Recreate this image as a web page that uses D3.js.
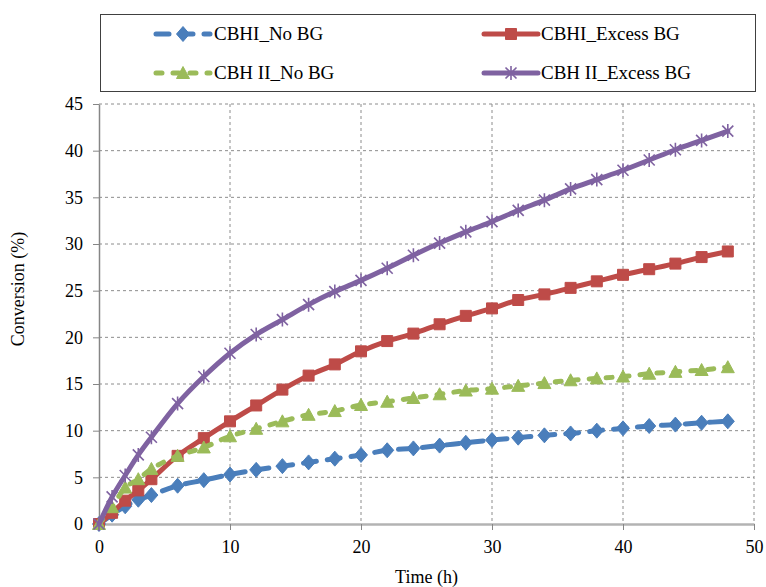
<!DOCTYPE html>
<html>
<head>
<meta charset="utf-8">
<script src="https://cdn.jsdelivr.net/npm/d3@7"></script>
<style>
  html, body { margin: 0; padding: 0; background: #fff; }
  svg { display: block; }
  text { font-family: "Liberation Serif", "Times New Roman", serif; fill: #000; }
</style>
</head>
<body>
<svg id="chart" width="766" height="587"></svg>
<script>
// Sampling times (h)
const timeH = [0, 1, 2, 3, 4, 6, 8, 10, 12, 14, 16, 18, 20, 22, 24, 26, 28, 30, 32, 34, 36, 38, 40, 42, 44, 46, 48];

// Conversion (%) for each enzyme condition
const cbhiNoBG      = [0, 1.0, 1.9, 2.6, 3.1, 4.1, 4.7, 5.3, 5.8, 6.2, 6.6, 7.0, 7.4, 7.9, 8.1, 8.4, 8.7, 9.0, 9.25, 9.5, 9.7, 10.0, 10.25, 10.5, 10.65, 10.85, 11.0];
const cbhiExcessBG  = [0, 1.2, 2.5, 3.6, 4.8, 7.3, 9.2, 11.0, 12.7, 14.4, 15.9, 17.1, 18.5, 19.6, 20.4, 21.4, 22.3, 23.1, 24.0, 24.6, 25.3, 26.0, 26.7, 27.3, 27.9, 28.6, 29.2];
const cbh2NoBG      = [0, 1.8, 3.9, 4.8, 5.9, 7.3, 8.2, 9.4, 10.2, 11.0, 11.7, 12.1, 12.75, 13.1, 13.5, 13.9, 14.3, 14.5, 14.8, 15.1, 15.4, 15.6, 15.8, 16.1, 16.3, 16.5, 16.8];
const cbh2ExcessBG  = [0, 2.9, 5.2, 7.4, 9.3, 12.9, 15.8, 18.3, 20.3, 21.9, 23.5, 24.9, 26.1, 27.4, 28.8, 30.1, 31.3, 32.4, 33.6, 34.7, 35.9, 36.9, 37.9, 39.0, 40.1, 41.1, 42.1];

const seriesNames = ["CBHI_No BG", "CBHI_Excess BG", "CBH II_No BG", "CBH II_Excess BG"];
const xTicks = [0, 10, 20, 30, 40, 50];
const yTicks = [0, 5, 10, 15, 20, 25, 30, 35, 40, 45];

const series = [
  { name: seriesNames[0], values: cbhiNoBG,     color: "#4A7EBB", dash: "13,11", marker: "diamond" },
  { name: seriesNames[1], values: cbhiExcessBG, color: "#BE4B48", dash: null,    marker: "square" },
  { name: seriesNames[2], values: cbh2NoBG,     color: "#9BBB59", dash: "6,11",  marker: "triangle" },
  { name: seriesNames[3], values: cbh2ExcessBG, color: "#7F62A1", dash: null,    marker: "star" }
];

const svg = d3.select("#chart");
const plot = { left: 99, right: 754, top: 104, bottom: 524 };

const x = d3.scaleLinear().domain([0, 50]).range([plot.left, plot.right]);
const y = d3.scaleLinear().domain([0, 45]).range([plot.bottom, plot.top]);

// Dashed grid
const grid = svg.append("g");
grid.selectAll("line.h").data(yTicks.filter(d => d > 0)).join("line")
  .attr("x1", plot.left).attr("x2", plot.right)
  .attr("y1", d => y(d)).attr("y2", d => y(d))
  .attr("stroke", "#8c8c8c").attr("stroke-width", 1).attr("stroke-dasharray", "3,3");
grid.selectAll("line.v").data(xTicks.filter(d => d > 0)).join("line")
  .attr("x1", d => x(d)).attr("x2", d => x(d))
  .attr("y1", plot.top).attr("y2", plot.bottom)
  .attr("stroke", "#8c8c8c").attr("stroke-width", 1).attr("stroke-dasharray", "3,3");

// Y axis
const yAxis = svg.append("g")
  .attr("transform", `translate(${plot.left},0)`)
  .call(d3.axisLeft(y).tickValues(yTicks).tickSize(6).tickPadding(10).tickSizeOuter(0));
yAxis.attr("font-family", null);
yAxis.select(".domain").attr("stroke", "#868686").attr("stroke-width", 1.5);
yAxis.selectAll(".tick line").attr("stroke", "#868686").attr("stroke-width", 1);
yAxis.selectAll(".tick text").attr("font-size", 18).attr("fill", "#000");

// X axis
const xAxis = svg.append("g")
  .attr("transform", `translate(0,${plot.bottom})`)
  .call(d3.axisBottom(x).tickValues(xTicks).tickSize(6).tickPadding(10).tickSizeOuter(0));
xAxis.attr("font-family", null);
xAxis.select(".domain").attr("stroke", "#b3b3b3").attr("stroke-width", 2.5);
xAxis.selectAll(".tick line").attr("stroke", "#868686").attr("stroke-width", 1);
xAxis.selectAll(".tick text").attr("font-size", 18).attr("fill", "#000");

// Axis titles
svg.append("text")
  .attr("x", (plot.left + plot.right) / 2).attr("y", 583)
  .attr("text-anchor", "middle").attr("font-size", 18)
  .text("Time (h)");
svg.append("text")
  .attr("transform", "translate(24,289) rotate(-90)")
  .attr("text-anchor", "middle").attr("font-size", 18)
  .text("Conversion (%)");

// Marker shapes
function markerPath(kind) {
  switch (kind) {
    case "diamond":  return "M0,-7.5L6.5,0L0,7.5L-6.5,0Z";
    case "square":   return "M-5.5,-5.5H5.5V5.5H-5.5Z";
    case "triangle": return "M0,-6.5L6.5,5.5H-6.5Z";
    case "star":     return "M-5.5,-5.5L5.5,5.5M-5.5,5.5L5.5,-5.5M0,-7V7";
  }
}
function drawMarker(g, kind, color, cx, cy) {
  const p = g.append("path")
    .attr("transform", `translate(${cx},${cy})`)
    .attr("d", markerPath(kind));
  if (kind === "star") {
    p.attr("fill", "none").attr("stroke", color).attr("stroke-width", 1.6);
  } else {
    p.attr("fill", color).attr("stroke", color).attr("stroke-width", 1);
  }
}

const line = d3.line()
  .x(d => x(d[0]))
  .y(d => y(d[1]))
  .curve(d3.curveCatmullRom.alpha(0.5));

const lines = svg.append("g");
series.forEach(s => {
  const pts = timeH.map((t, i) => [t, s.values[i]]);
  const path = lines.append("path")
    .datum(pts)
    .attr("d", line)
    .attr("fill", "none")
    .attr("stroke", s.color)
    .attr("stroke-width", 5)
    .attr("stroke-linecap", "round")
    .attr("stroke-linejoin", "round");
  if (s.dash) path.attr("stroke-dasharray", s.dash);
  const mg = lines.append("g");
  pts.forEach(p => drawMarker(mg, s.marker, s.color, x(p[0]), y(p[1])));
});

// Legend
const legend = svg.append("g");
legend.append("rect")
  .attr("x", 100.5).attr("y", 14.5).attr("width", 655).attr("height", 77)
  .attr("fill", "#fff").attr("stroke", "#404040").attr("stroke-width", 1);

const legendPos = [
  { x1: 156, x2: 210, tx: 214, y: 34 },
  { x1: 484, x2: 538, tx: 541, y: 34 },
  { x1: 156, x2: 210, tx: 214, y: 73 },
  { x1: 484, x2: 538, tx: 541, y: 73 }
];
series.forEach((s, i) => {
  const p = legendPos[i];
  const l = legend.append("line")
    .attr("x1", p.x1).attr("x2", p.x2).attr("y1", p.y).attr("y2", p.y)
    .attr("stroke", s.color).attr("stroke-width", 5).attr("stroke-linecap", "round");
  if (s.dash) l.attr("stroke-dasharray", s.dash);
  drawMarker(legend, s.marker, s.color, (p.x1 + p.x2) / 2, p.y);
  legend.append("text")
    .attr("x", p.tx).attr("y", p.y + 6)
    .attr("font-size", 19)
    .text(s.name);
});
</script>
</body>
</html>
